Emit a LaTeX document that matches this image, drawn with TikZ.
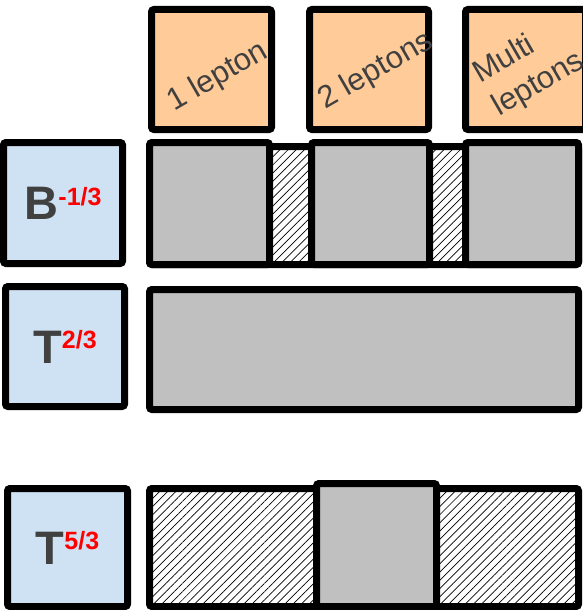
\documentclass[tikz,border=0pt]{standalone}
\usepackage{fontspec}
\setmainfont{Liberation Sans}
\usetikzlibrary{patterns.meta}
\definecolor{lepfill}{HTML}{FFCC99}
\definecolor{quarkfill}{HTML}{CFE2F3}
\definecolor{regfill}{HTML}{C0C0C0}
\definecolor{txtgray}{HTML}{404040}
\newcommand{\chargetag}[2]{\raisebox{#1}{\color{red}\fontsize{25}{27}\selectfont #2}}
\begin{document}
\begin{tikzpicture}[x=1pt,y=-1pt,
      box/.style={rectangle,draw,line width=7pt,rounded corners=2.5pt,inner sep=0pt},
      lepbox/.style={box,fill=lepfill},
      quarkbox/.style={box,fill=quarkfill,text=txtgray,font=\fontsize{47}{50}\selectfont\bfseries},
      region/.style={box,fill=regfill},
      veto/.style={box,preaction={fill=white},pattern={Lines[angle=45,distance=5.8pt,line width=0.7pt]}},
      leplabel/.style={rotate=30,text=txtgray,font=\fontsize{31}{38}\selectfont,align=left,inner sep=0pt}
      ]
      \useasboundingbox (0,0) rectangle (582,610);

      % lepton channels
      \node[lepbox,minimum width=120pt,minimum height=120pt] (onelep) at (211.5,69.5) {};
      \node[lepbox,minimum width=119pt,minimum height=120pt] (twolep) at (369,69.5) {};
      \node[lepbox,minimum width=120pt,minimum height=120pt] (multilep) at (525.5,69.5) {};
      \node[leplabel] (onelabel) at (218,77) {1 lepton};
      \node[leplabel] (twolabel) at (376,71) {2 leptons};
      \node[leplabel] (multilabel) at (529,68) {Multi\\leptons};

      % quark partners
      \node[quarkbox,minimum width=119pt,minimum height=121pt] (bquark) at (63,203) {B\chargetag{14pt}{-1/3}};
      \node[quarkbox,minimum width=119pt,minimum height=120pt] (ttwo) at (65,346.5) {T\chargetag{15pt}{2/3}};
      \node[quarkbox,minimum width=120pt,minimum height=118pt] (tfive) at (67.5,547.5) {T\chargetag{15pt}{5/3}};

      % B row
      \node[veto,minimum width=429pt,minimum height=118pt] (brow) at (364,205.5) {};
      \node[region,minimum width=120pt,minimum height=122pt] (bone) at (209.5,203.5) {};
      \node[region,minimum width=118pt,minimum height=122pt] (btwo) at (370.5,203.5) {};
      \node[region,minimum width=113pt,minimum height=122pt] (bmulti) at (522,203.5) {};

      % T 2/3 row
      \node[region,minimum width=429pt,minimum height=120pt] (trow) at (364,349.5) {};

      % T 5/3 row
      \node[veto,minimum width=429pt,minimum height=118pt] (tfiverow) at (364,547.5) {};
      \node[region,minimum width=120pt,minimum height=123pt] (tfivetwo) at (376.5,545) {};

    \end{tikzpicture}
\end{document}
